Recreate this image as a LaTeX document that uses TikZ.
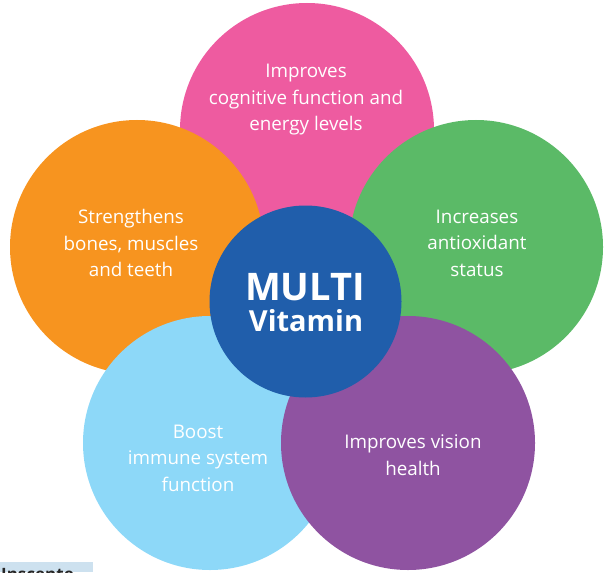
\documentclass[tikz,border=0pt]{standalone}
\usepackage{fontspec}
\setmainfont{Open Sans}
\definecolor{cpink}{HTML}{EE5BA0}
\definecolor{corange}{HTML}{F7941F}
\definecolor{cgreen}{HTML}{5BBA67}
\definecolor{clblue}{HTML}{8DD8F8}
\definecolor{cpurple}{HTML}{8F53A1}
\definecolor{cblue}{HTML}{205EAB}
\definecolor{clabelbg}{HTML}{CDE1EF}
\begin{document}
\begin{tikzpicture}[x=1pt,y=-1pt,
  petal/.style={circle,minimum size=254pt,inner sep=0pt},
  ptext/.style={text=white,align=center,font=\fontsize{18.8}{26.5}\selectfont}]
\useasboundingbox (0,0) rectangle (612,572);
\clip (0,0) rectangle (612,572);
\node[petal,fill=cpink] (pink) at (307,130) {};
\node[petal,fill=corange] (orange) at (137,247) {};
\node[petal,fill=cgreen] (green) at (476,247) {};
\node[petal,fill=clblue] (lblue) at (210,443) {};
\node[petal,fill=cpurple] (purple) at (408,443) {};
\node[circle,minimum size=192pt,inner sep=0pt,fill=cblue] (core) at (305.5,301.5) {};
\node[ptext] (tpink) at (306,100) {Improves\\cognitive function and\\energy levels};
\node[ptext] (torange) at (131,243) {Strengthens\\bones, muscles\\and teeth};
\node[ptext] (tgreen) at (477,243) {Increases\\antioxidant\\status};
\node[ptext] (tlblue) at (198,458) {Boost\\immune system\\function};
\node[ptext] (tpurple) at (413,455) {Improves vision\\health};
\node[text=white,font=\bfseries\fontsize{38}{40}\selectfont] (tmulti) at (305,287) {MULTI};
\node[text=white,font=\bfseries\fontsize{29}{31}\selectfont] (tvit) at (306,321) {Vitamin};
\fill[clabelbg] (0,562) rectangle (93,572);
\node[anchor=base west,inner sep=0pt,text=black!85,font=\bfseries\fontsize{17}{20}\selectfont] (tlabel) at (1,580) {Inscente};
\end{tikzpicture}
\end{document}
